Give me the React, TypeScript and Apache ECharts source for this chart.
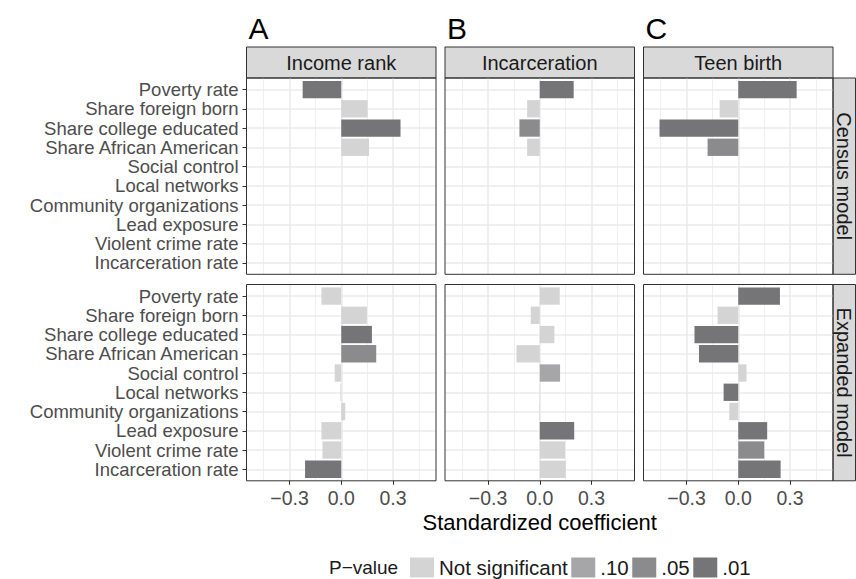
import React, { useEffect, useRef } from 'react';
import * as echarts from 'echarts';

const categories = [
  'Poverty rate',
  'Share foreign born',
  'Share college educated',
  'Share African American',
  'Social control',
  'Local networks',
  'Community organizations',
  'Lead exposure',
  'Violent crime rate',
  'Incarceration rate',
];
const columnTitles = ['Income rank', 'Incarceration', 'Teen birth'];
const columnLetters = ['A', 'B', 'C'];
const rowTitles = ['Census model', 'Expanded model'];
const levels = ['Not significant', '.10', '.05', '.01'];
const levelColors = ['#d4d4d4', '#a6a6a8', '#8b8b8d', '#757578'];
const xTicks = [-0.3, 0, 0.3];
const xMinorTicks = [-0.45, -0.15, 0.15, 0.45];
const X_MIN = -0.55;
const X_MAX = 0.55;

// significance codes: 0 = not significant, 1 = .10, 2 = .05, 3 = .01
const censusIncome = [-0.224, 0.153, 0.344, 0.161, null, null, null, null, null, null];
const censusIncomeSig = [3, 0, 3, 0, null, null, null, null, null, null];
const censusIncarceration = [0.197, -0.073, -0.118, -0.073, null, null, null, null, null, null];
const censusIncarcerationSig = [3, 0, 2, 0, null, null, null, null, null, null];
const censusTeen = [0.339, -0.108, -0.457, -0.178, null, null, null, null, null, null];
const censusTeenSig = [3, 0, 3, 2, null, null, null, null, null, null];

const expandedIncome = [-0.115, 0.149, 0.178, 0.203, -0.038, -0.005, 0.023, -0.115, -0.109, -0.21];
const expandedIncomeSig = [0, 0, 3, 2, 0, 0, 0, 0, 0, 3];
const expandedIncarceration = [0.116, -0.052, 0.085, -0.135, 0.118, 0.002, -0.003, 0.2, 0.147, 0.151];
const expandedIncarcerationSig = [0, 0, 0, 0, 1, 0, 0, 3, 0, 0];
const expandedTeen = [0.242, -0.12, -0.254, -0.228, 0.048, -0.085, -0.052, 0.168, 0.151, 0.246];
const expandedTeenSig = [3, 0, 3, 3, 0, 3, 0, 3, 2, 3];

const panelValues = [
  [censusIncome, censusIncarceration, censusTeen],
  [expandedIncome, expandedIncarceration, expandedTeen],
];
const panelSig = [
  [censusIncomeSig, censusIncarcerationSig, censusTeenSig],
  [expandedIncomeSig, expandedIncarcerationSig, expandedTeenSig],
];

const FONT = "'Liberation Sans', Arial, Helvetica, sans-serif";
const colLeft = [246.5, 445, 643.5];
const PW = 189.5;
const rowTop = [78, 284.5];
const PH = 196.3;
const stripTop = 47;
const stripH = 31;
const rightStripX = 833;
const rightStripW = 22.5;

const fmt = (v: number) => v.toFixed(1).replace('-', '\u2212');

export default function App() {
  const ref = useRef<HTMLDivElement>(null);
  useEffect(() => {
    document.body.style.margin = '0';
    if (!ref.current) return;
    const chart = echarts.init(ref.current, undefined, { renderer: 'svg' });
    const grids: any[] = [];
    const xAxes: any[] = [];
    const yAxes: any[] = [];
    const series: any[] = [];
    for (let r = 0; r < 2; r++) {
      for (let c = 0; c < 3; c++) {
        const p = r * 3 + c;
        const left = colLeft[c];
        const top = rowTop[r];
        const pad = (PH * 0.1) / 10.2;
        const bottomRow = r === 1;
        grids.push({
          left, top, width: PW, height: PH, show: true,
          backgroundColor: 'transparent', borderColor: '#333333', borderWidth: 1, z: 10,
        });
        grids.push({ left, top: top + pad, width: PW, height: PH - 2 * pad, show: false });
        xAxes.push({
          type: 'value', gridIndex: 2 * p, min: X_MIN, max: X_MAX, position: 'bottom',
          axisLine: { show: false, onZero: false },
          axisTick: { show: bottomRow, customValues: xTicks, length: 4, lineStyle: { color: '#333333' } },
          axisLabel: {
            show: bottomRow, customValues: xTicks, formatter: fmt, color: '#4d4d4d',
            fontSize: 19.5, fontFamily: FONT, margin: 7,
          },
          splitLine: { show: true, lineStyle: { color: '#ebebeb', width: 1.6 } },
        });
        xAxes.push({
          type: 'value', gridIndex: 2 * p, min: X_MIN, max: X_MAX,
          axisLine: { show: false, onZero: false },
          axisTick: { show: false, customValues: xMinorTicks },
          axisLabel: { show: false, customValues: xMinorTicks },
          splitLine: { show: true, lineStyle: { color: '#ebebeb', width: 0.8 } },
        });
        xAxes.push({
          type: 'value', gridIndex: 2 * p + 1, min: X_MIN, max: X_MAX, show: false,
          axisLine: { show: false, onZero: false },
        });
        yAxes.push({
          type: 'value', gridIndex: 2 * p, min: 0, max: 1, show: false,
          axisLine: { show: false, onZero: false },
        });
        yAxes.push({
          type: 'category', gridIndex: 2 * p + 1, data: categories, inverse: true, position: 'left',
          axisLine: { show: false, onZero: false },
          axisTick: { show: c === 0, alignWithLabel: true, interval: 0, length: 4, lineStyle: { color: '#333333' } },
          axisLabel: { show: c === 0, interval: 0, color: '#4d4d4d', fontSize: 18.5, fontFamily: FONT, margin: 8 },
          splitLine: { show: false },
        });
        const vals = panelValues[r][c];
        const sig = panelSig[r][c];
        levels.forEach((lv, li) => {
          series.push({
            type: 'bar', name: lv,
            xAxisIndex: 3 * p + 2, yAxisIndex: 2 * p + 1,
            data: vals.map((v, i) => (sig[i] === li ? v : null)),
            barWidth: '90%', barGap: '-100%',
            itemStyle: { color: levelColors[li] },
            z: 3,
            silent: true,
            markLine: li === 0 ? {
              silent: true, z: 1, symbol: ['none', 'none'],
              label: { show: false },
              lineStyle: { color: '#ebebeb', width: 1.6, type: 'solid' },
              data: categories.map((_, i) => ({ yAxis: i })),
            } : undefined,
          });
        });
      }
    }
    const graphic: any[] = [];
    const textStyle = (text: string, size: number, fill: string) => ({
      text, fontSize: size, fontFamily: FONT, fill,
      align: 'center', verticalAlign: 'middle', textAlign: 'center', textVerticalAlign: 'middle',
    });
    for (let c = 0; c < 3; c++) {
      graphic.push({
        type: 'rect', shape: { x: colLeft[c], y: stripTop, width: PW, height: stripH },
        style: { fill: '#d9d9d9', stroke: '#333333', lineWidth: 1 },
      });
      graphic.push({
        type: 'text', x: colLeft[c] + PW / 2, y: stripTop + stripH / 2,
        style: textStyle(columnTitles[c], 20, '#1a1a1a'),
      });
      graphic.push({
        type: 'text', x: colLeft[c] + 2, y: 28,
        style: { text: columnLetters[c], fontSize: 30, fontFamily: FONT, fill: '#000000', align: 'left', verticalAlign: 'middle', textAlign: 'left', textVerticalAlign: 'middle' },
      });
    }
    for (let r = 0; r < 2; r++) {
      graphic.push({
        type: 'rect', shape: { x: rightStripX, y: rowTop[r], width: rightStripW, height: PH },
        style: { fill: '#d9d9d9', stroke: '#333333', lineWidth: 1 },
      });
      graphic.push({
        type: 'text', x: rightStripX + rightStripW / 2, y: rowTop[r] + PH / 2, rotation: -Math.PI / 2,
        style: textStyle(rowTitles[r], 20, '#1a1a1a'),
      });
    }
    graphic.push({
      type: 'text', x: (colLeft[0] + rightStripX) / 2, y: 522,
      style: textStyle('Standardized coefficient', 22, '#000000'),
    });
    graphic.push({
      type: 'text', x: 329, y: 567,
      style: { text: 'P\u2212value', fontSize: 19, fontFamily: FONT, fill: '#1a1a1a', align: 'left', verticalAlign: 'middle', textAlign: 'left', textVerticalAlign: 'middle' },
    });

    chart.setOption({
      animation: false,
      backgroundColor: '#ffffff',
      grid: grids,
      xAxis: xAxes,
      yAxis: yAxes,
      series,
      legend: {
        data: levels, left: 410, top: 557, itemWidth: 24, itemHeight: 20, itemGap: 3.5,
        icon: 'rect', selectedMode: false, padding: 0,
        textStyle: { fontSize: 20.5, color: '#1a1a1a', fontFamily: FONT },
      },
      graphic,
    });
    return () => chart.dispose();
  }, []);
  return <div ref={ref} style={{ width: 856, height: 579 }} />;
}
